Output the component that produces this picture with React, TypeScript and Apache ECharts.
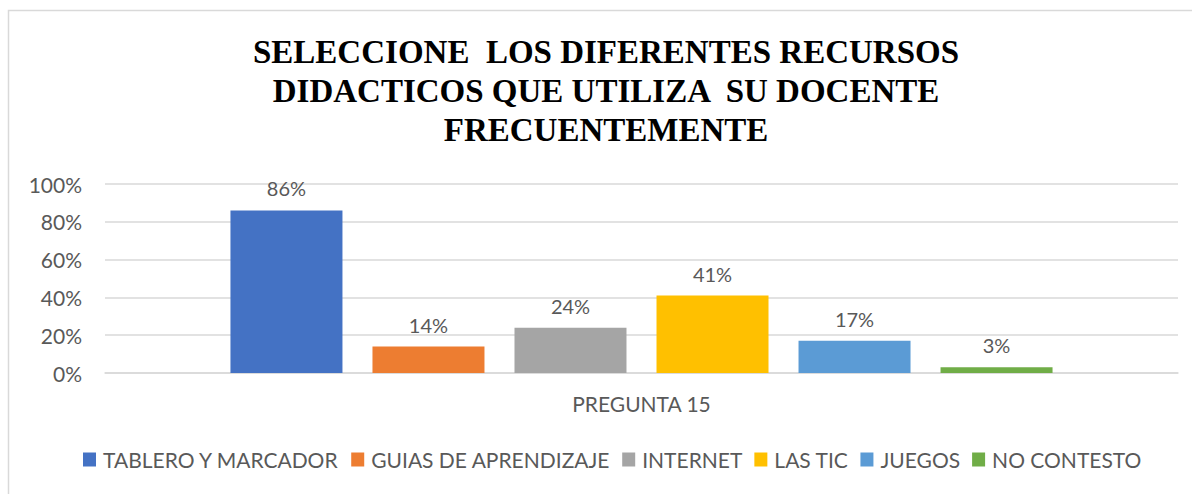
import React, { useEffect, useRef } from "react";
import * as echarts from "echarts";

const titleLines = [
  "SELECCIONE  LOS DIFERENTES RECURSOS",
  "DIDACTICOS QUE UTILIZA  SU DOCENTE",
  "FRECUENTEMENTE",
];
const categories = ["PREGUNTA 15"];
const seriesNames = [
  "TABLERO Y MARCADOR",
  "GUIAS DE APRENDIZAJE",
  "INTERNET",
  "LAS TIC",
  "JUEGOS",
  "NO CONTESTO",
];
const seriesValues = [86, 14, 24, 41, 17, 3];
const seriesColors = ["#4472C4", "#ED7D31", "#A5A5A5", "#FFC000", "#5B9BD5", "#70AD47"];

const TEXT = "#595959";
const FONT = "Lato, 'Open Sans', sans-serif";

export default function App() {
  const ref = useRef<HTMLDivElement>(null);
  useEffect(() => {
    if (!ref.current) return;
    const chart = echarts.init(ref.current, undefined, { renderer: "svg" });
    chart.setOption({
      animation: false,
      backgroundColor: "#ffffff",
      graphic: [
        {
          type: "rect",
          shape: { x: 8.5, y: 10.5, width: 1200, height: 500 },
          style: { fill: "none", stroke: "#D9D9D9", lineWidth: 1.5 },
          silent: true,
        },
        ...titleLines.map((t, i) => ({
          type: "text",
          x: 606,
          y: 52 + i * 39,
          style: {
            text: t,
            fill: "#000000",
            font: "bold 33px 'Liberation Serif', 'Times New Roman', serif",
            textAlign: "center",
            textVerticalAlign: "middle",
          },
          silent: true,
        })),
      ],
      legend: {
        bottom: 19,
        left: 78,
        icon: "rect",
        itemWidth: 13,
        itemHeight: 14,
        itemGap: 12,
        textStyle: { color: TEXT, fontSize: 21, fontFamily: FONT, padding: [0, 0, 0, 2] },
        data: seriesNames,
      },
      grid: { left: 105, right: 14, top: 184, bottom: 121, containLabel: false },
      xAxis: {
        type: "category",
        data: categories,
        axisLine: { lineStyle: { color: "#D9D9D9", width: 1.5 } },
        axisTick: { show: false },
        axisLabel: { color: TEXT, fontSize: 21, fontFamily: FONT, margin: 20 },
      },
      yAxis: {
        type: "value",
        min: 0,
        max: 100,
        interval: 20,
        axisLine: { show: false },
        axisTick: { show: false },
        splitLine: { lineStyle: { color: "#D9D9D9", width: 1.5 } },
        axisLabel: {
          color: TEXT,
          fontSize: 21,
          fontFamily: FONT,
          margin: 23,
          formatter: "{value}%",
        },
      },
      series: seriesNames.map((name, i) => ({
        name,
        type: "bar",
        data: [seriesValues[i]],
        barWidth: 112,
        barGap: "26.8%",
        itemStyle: { color: seriesColors[i] },
        label: {
          show: true,
          position: "top",
          distance: 12,
          color: TEXT,
          fontSize: 20,
          fontFamily: FONT,
          formatter: "{c}%",
        },
      })),
    });
    return () => chart.dispose();
  }, []);
  return (
    <div
      ref={ref}
      style={{ position: "fixed", left: 0, top: 0, width: 1192, height: 494 }}
    />
  );
}
